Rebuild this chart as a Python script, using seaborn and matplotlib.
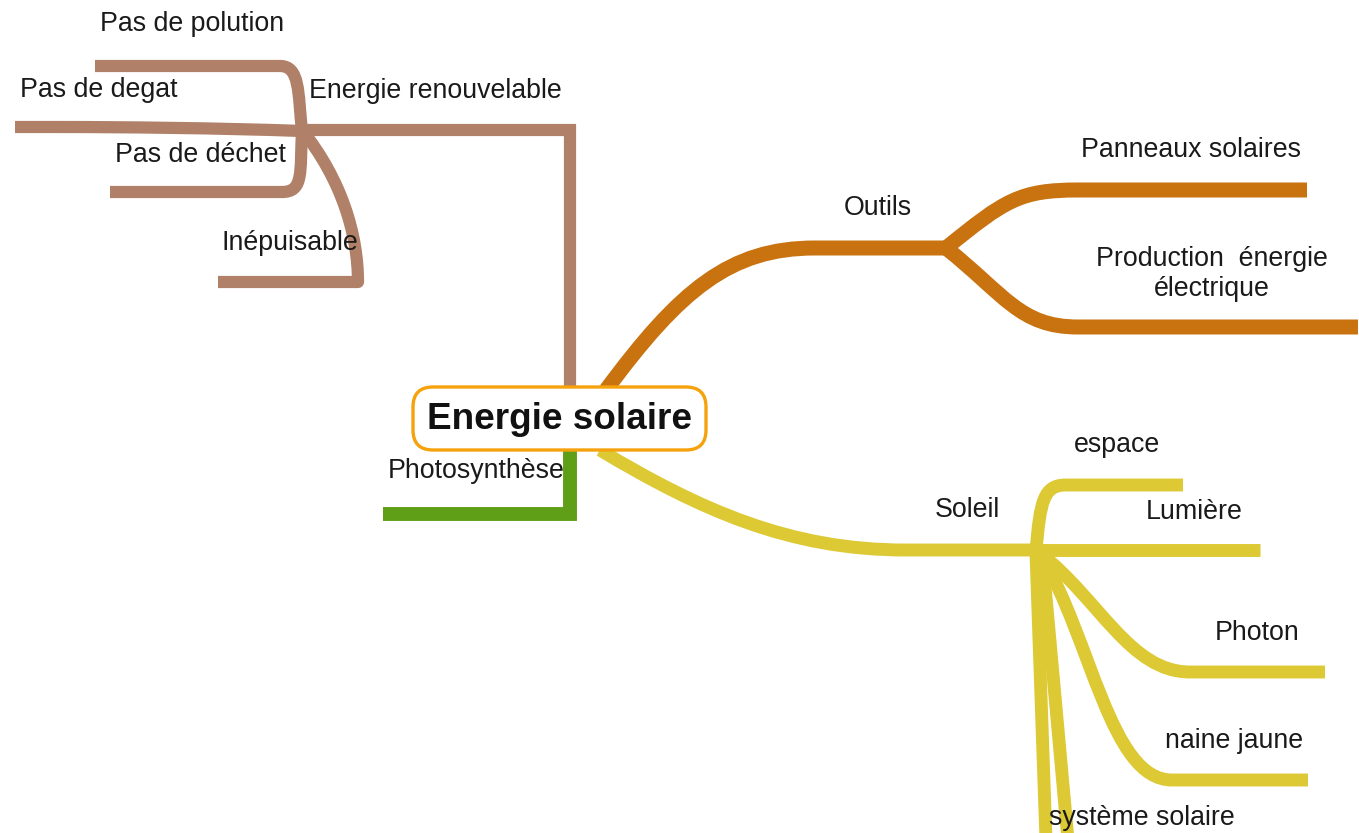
import numpy as np
import matplotlib
matplotlib.use("Agg")
import matplotlib.pyplot as plt
from matplotlib.path import Path
from matplotlib.patches import PathPatch, FancyBboxPatch
import seaborn as sns

# ---------------- data (mind-map content) ----------------
center_label = "Energie solaire"

branch_names = ["Energie renouvelable", "Photosynthèse", "Outils", "Soleil"]
branch_colors = ["#b08068", "#5f9e17", "#c8730f", "#dcc934"]

renouvelable_children = ["Pas de polution", "Pas de degat", "Pas de déchet", "Inépuisable"]
outils_children = ["Panneaux solaires", "Production  énergie\nélectrique"]
soleil_children = ["espace", "Lumière", "Photon", "naine jaune", "système solaire"]

# label anchor positions in canvas pixels (x, y from top)
label_pos = {
    "Energie renouvelable": (435, 91),
    "Photosynthèse": (476, 471),
    "Outils": (878, 208),
    "Soleil": (967, 510),
    "Pas de polution": (192, 24),
    "Pas de degat": (99, 90),
    "Pas de déchet": (200, 155),
    "Inépuisable": (290, 243),
    "Panneaux solaires": (1191, 150),
    "Production  énergie\nélectrique": (1212, 274),
    "espace": (1117, 445),
    "Lumière": (1194, 512),
    "Photon": (1257, 633),
    "naine jaune": (1234, 741),
    "système solaire": (1142, 818),
}

# branch paths: list of (command, points); M=move, L=line, C=cubic
paths_brown = [
    [("M", [(570, 388)]), ("L", [(570, 130)]), ("L", [(300, 130)])],
    [("M", [(302, 132)]), ("C", [(298, 92), (300, 66), (280, 66)]), ("L", [(95, 66)])],
    [("M", [(302, 131)]), ("C", [(220, 128), (120, 127), (60, 127)]), ("L", [(15, 127)])],
    [("M", [(302, 130)]), ("C", [(300, 172), (304, 192), (282, 192)]), ("L", [(110, 192)])],
    [("M", [(302, 130)]), ("C", [(342, 180), (358, 235), (358, 282)]), ("L", [(218, 282)])],
]
paths_green = [
    [("M", [(570, 450)]), ("L", [(570, 514)]), ("L", [(383, 514)])],
]
paths_orange = [
    [("M", [(606, 390)]), ("C", [(680, 290), (730, 248), (815, 248)]), ("L", [(946, 248)])],
    [("M", [(946, 248)]), ("C", [(1005, 200), (1020, 190), (1078, 190)]), ("L", [(1307, 190)])],
    [("M", [(946, 248)]), ("C", [(1005, 295), (1020, 327), (1078, 327)]), ("L", [(1358, 327)])],
]
paths_yellow = [
    [("M", [(600, 450)]), ("C", [(700, 510), (790, 550), (905, 550)]), ("L", [(1036, 550)])],
    [("M", [(1036, 552)]), ("C", [(1040, 500), (1044, 485), (1066, 485)]), ("L", [(1183, 485)])],
    [("M", [(1030, 550)]), ("L", [(1260, 550)])],
    [("M", [(1040, 553)]), ("C", [(1100, 600), (1130, 672), (1190, 672)]), ("L", [(1325, 672)])],
    [("M", [(1040, 553)]), ("C", [(1092, 640), (1110, 780), (1172, 780)]), ("L", [(1308, 780)])],
    [("M", [(1036, 553)]), ("L", [(1046, 840)])],
    [("M", [(1042, 553)]), ("L", [(1068, 840)])],
]
widths = [8.8, 10.0, 10.8, 9.3]

center_box = (413, 387, 293, 63)  # x, y, w, h

# ---------------- drawing ----------------
sns.set_theme(style="white")
plt.rcParams["font.family"] = ["Liberation Sans", "DejaVu Sans"]

W, H = 1359, 833
fig = plt.figure(figsize=(W / 100, H / 100), dpi=100)
ax = fig.add_axes([0, 0, 1, 1])
ax.set_xlim(0, W)
ax.set_ylim(H, 0)
ax.axis("off")

codes_map = {"M": Path.MOVETO, "L": Path.LINETO, "C": Path.CURVE4}


def draw(paths, color, lw, join="round"):
    for p in paths:
        verts, codes = [], []
        for cmd, pts in p:
            for pt in pts:
                verts.append(pt)
                codes.append(codes_map[cmd])
        patch = PathPatch(Path(verts, codes), facecolor="none", edgecolor=color,
                          lw=lw, capstyle="butt", joinstyle=join, zorder=2)
        ax.add_patch(patch)


draw(paths_brown[:1], branch_colors[0], widths[0], join="miter")
draw(paths_brown[1:], branch_colors[0], widths[0])
draw(paths_green, branch_colors[1], widths[1], join="miter")
draw(paths_orange, branch_colors[2], widths[2])
draw(paths_yellow, branch_colors[3], widths[3])

bx, by, bw, bh = center_box
box = FancyBboxPatch((bx, by), bw, bh, boxstyle="round,pad=0,rounding_size=20",
                     facecolor="white", edgecolor="#f5a20c", lw=2.4, zorder=3,
                     mutation_aspect=1)
ax.add_patch(box)
ax.text(bx + bw / 2, by + bh / 2 + 1, center_label, ha="center", va="center",
        fontsize=26.6, fontweight="bold", color="#111111", zorder=5)

for name, (x, y) in label_pos.items():
    ax.text(x, y, name, ha="center", va="center", fontsize=19.3, color="#1a1a1a",
            linespacing=1.2, zorder=5)

fig.savefig("out.png", dpi=100, facecolor="white")
